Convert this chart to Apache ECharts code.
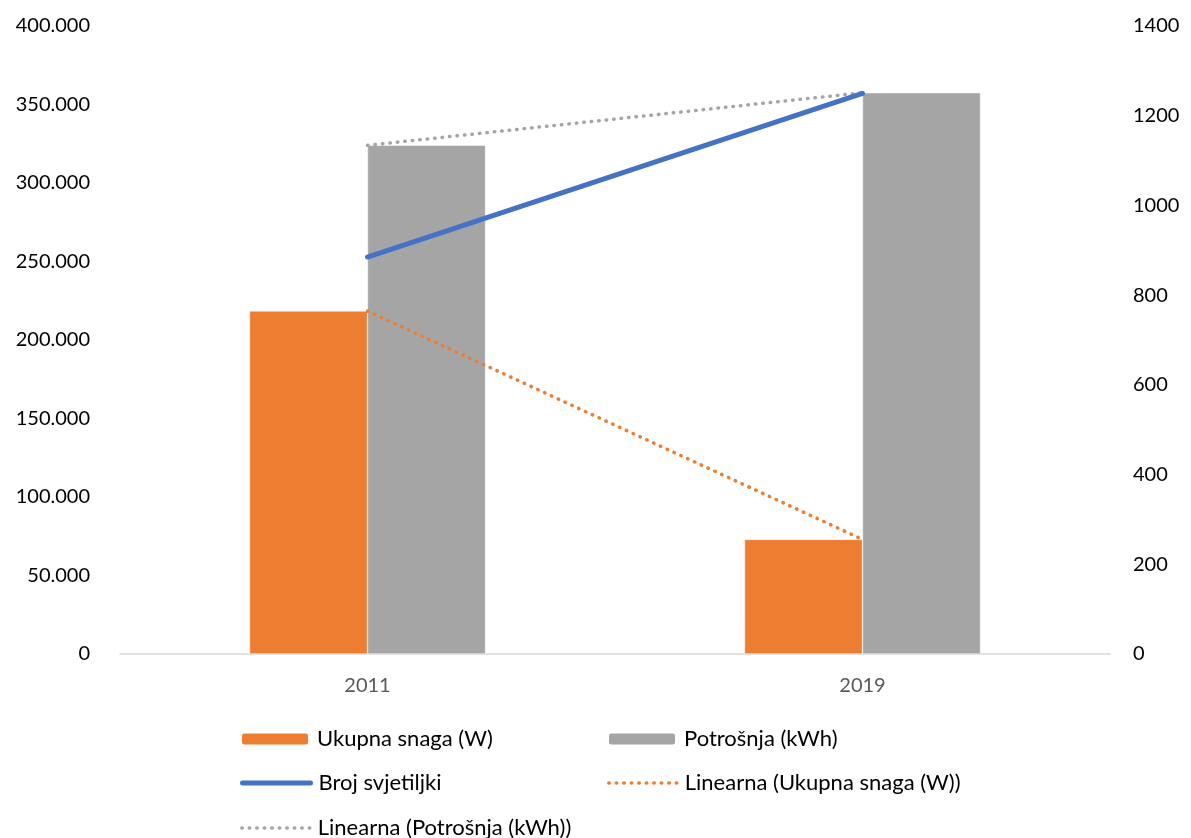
<!DOCTYPE html>
<html>
<head>
<meta charset="utf-8">
<style>
  html, body { margin: 0; padding: 0; background: #fff; }
  #chart { width: 1191px; height: 838px; }
</style>
<script src="https://cdn.jsdelivr.net/npm/echarts@6/dist/echarts.min.js"></script>
</head>
<body>
<div id="chart"></div>
<script>
// podaci
const years = ["2011", "2019"];
const ukupnaSnaga = [218500, 73000];   // W
const potrosnja = [324000, 357500];    // kWh
const brojSvjetiljki = [885, 1250];
// linearni trend kroz dvije tocke = same vrijednosti
const trendSnaga = [218500, 73000];
const trendPotrosnja = [324000, 357500];
const leftTicks = [0, 400000, 50000];   // min, max, korak
const rightTicks = [0, 1400, 200];

const FONT = "Lato";
const chart = echarts.init(document.getElementById("chart"));

function fmtThousands(v) {
  return String(v).replace(/\B(?=(\d{3})+(?!\d))/g, ".");
}

const dotted = [0.5, 7];

function legendAt(name, left, top, extra) {
  return Object.assign({
    data: [name],
    left: left,
    top: top,
    padding: 0,
    itemWidth: 68,
    itemHeight: 13,
    selectedMode: false,
    textStyle: { fontFamily: FONT, fontSize: 22, color: "#000", padding: [0, 0, 0, 3] }
  }, extra || {});
}

chart.setOption({
  animation: false,
  grid: { left: 120, right: 81, top: 26, bottom: 184 },
  legend: [
    legendAt("Ukupna snaga (W)", 240, 728),
    legendAt("Potrošnja (kWh)", 607, 728),
    legendAt("Broj svjetiljki", 240, 772, {
      itemStyle: { opacity: 0 },
      lineStyle: { color: "#4472C4", width: 5, cap: "round" }
    }),
    legendAt("Linearna (Ukupna snaga (W))", 607, 772, {
      itemStyle: { opacity: 0 },
      lineStyle: { color: "#ED7D31", width: 3.5, type: dotted, cap: "round" }
    }),
    legendAt("Linearna (Potrošnja (kWh))", 240, 817, {
      itemStyle: { opacity: 0 },
      lineStyle: { color: "#A5A5A5", width: 3.5, type: dotted, cap: "round" }
    })
  ],
  xAxis: {
    type: "category",
    data: years,
    axisTick: { show: false },
    axisLine: { lineStyle: { color: "#d9d9d9", width: 1.5 } },
    axisLabel: { fontFamily: FONT, fontSize: 20, color: "#595959", margin: 22 }
  },
  yAxis: [
    {
      type: "value",
      min: leftTicks[0],
      max: leftTicks[1],
      interval: leftTicks[2],
      splitLine: { show: false },
      axisLine: { show: false },
      axisTick: { show: false },
      axisLabel: {
        fontFamily: FONT, fontSize: 20, color: "#000", margin: 30,
        formatter: fmtThousands
      }
    },
    {
      type: "value",
      min: rightTicks[0],
      max: rightTicks[1],
      interval: rightTicks[2],
      splitLine: { show: false },
      axisLine: { show: false },
      axisTick: { show: false },
      axisLabel: {
        fontFamily: FONT, fontSize: 20, color: "#000", margin: 23,
        formatter: function (v) { return String(v); }
      }
    }
  ],
  series: [
    {
      name: "Ukupna snaga (W)",
      type: "bar",
      data: ukupnaSnaga,
      barWidth: 118,
      barGap: "0%",
      itemStyle: { color: "#ED7D31", borderColor: "#fff", borderWidth: 0.5 }
    },
    {
      name: "Potrošnja (kWh)",
      type: "bar",
      data: potrosnja,
      barWidth: 118,
      barGap: "0%",
      itemStyle: { color: "#A5A5A5", borderColor: "#fff", borderWidth: 0.5 }
    },
    {
      name: "Broj svjetiljki",
      type: "line",
      yAxisIndex: 1,
      data: brojSvjetiljki,
      symbol: "none",
      z: 5,
      itemStyle: { color: "#4472C4" },
      lineStyle: { color: "#4472C4", width: 5, cap: "round" }
    },
    {
      name: "Linearna (Ukupna snaga (W))",
      type: "line",
      data: trendSnaga,
      symbol: "none",
      z: 4,
      itemStyle: { color: "#ED7D31" },
      lineStyle: { color: "#ED7D31", width: 3.5, type: dotted, cap: "round" }
    },
    {
      name: "Linearna (Potrošnja (kWh))",
      type: "line",
      data: trendPotrosnja,
      symbol: "none",
      z: 4,
      itemStyle: { color: "#A5A5A5" },
      lineStyle: { color: "#A5A5A5", width: 3.5, type: dotted, cap: "round" }
    }
  ]
});
</script>
</body>
</html>
